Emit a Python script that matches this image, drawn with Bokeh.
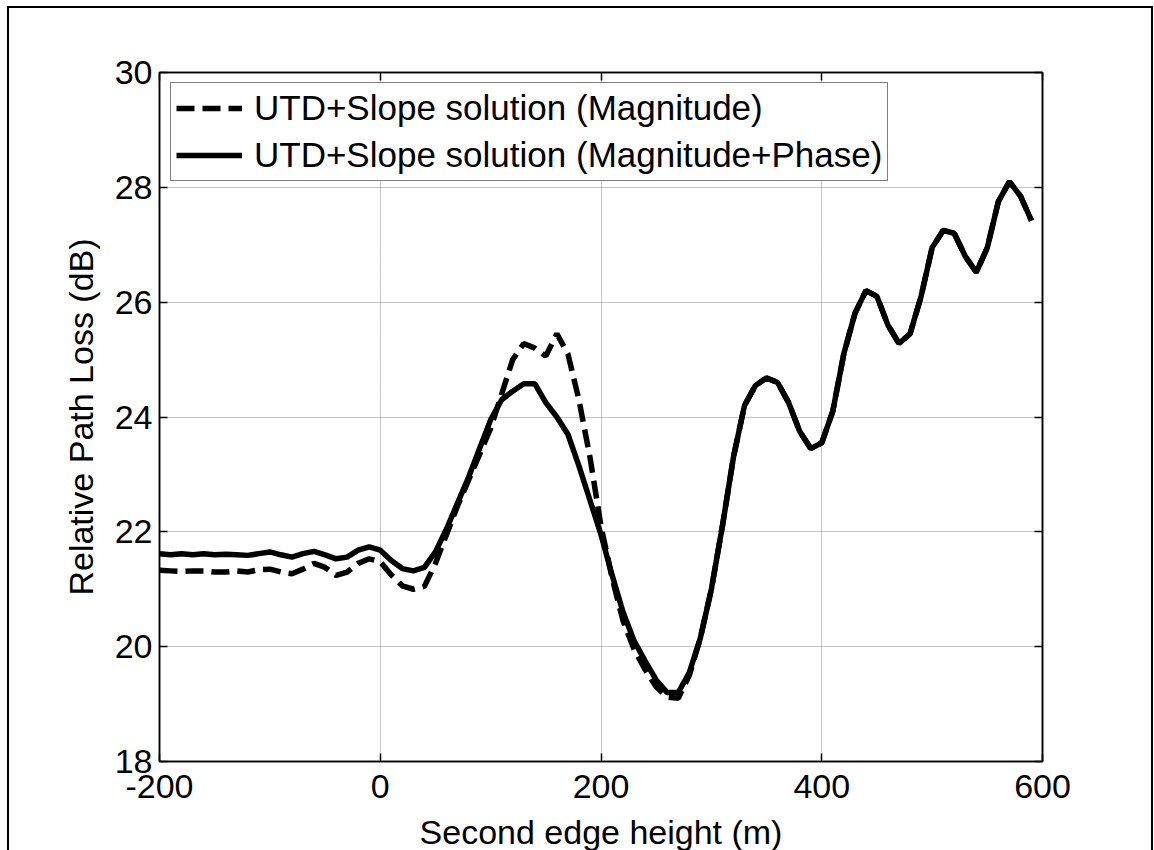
from bokeh.plotting import figure
from bokeh.models import Range1d, LinearAxis, Legend, LegendItem, FixedTicker
from bokeh.embed import file_html
from bokeh.resources import INLINE

# ---- data ----
edge_height = [-200, -190, -180, -170, -160, -150, -140, -130, -120, -110,
               -100, -90, -80, -70, -60, -50, -40, -30, -20, -10,
               0, 10, 20, 30, 40, 50, 60, 70, 80, 90,
               100, 110, 120, 130, 140, 150, 160, 170, 180, 190,
               200, 210, 220, 230, 240, 250, 260, 270, 280, 290,
               300, 310, 320, 330, 340, 350, 360, 370, 380, 390,
               400, 410, 420, 430, 440, 450, 460, 470, 480, 490,
               500, 510, 520, 530, 540, 550, 560, 570, 580, 590]

loss_magnitude = [21.33, 21.32, 21.31, 21.32, 21.32, 21.30, 21.30, 21.32, 21.30, 21.34,
                  21.35, 21.30, 21.27, 21.35, 21.45, 21.38, 21.24, 21.30, 21.45, 21.53,
                  21.48, 21.25, 21.06, 21.00, 21.05, 21.45, 21.95, 22.45, 22.90, 23.35,
                  23.80, 24.40, 25.00, 25.28, 25.20, 25.06, 25.45, 25.10, 24.30, 23.30,
                  22.10, 21.20, 20.45, 19.95, 19.60, 19.30, 19.12, 19.10, 19.50, 20.15,
                  21.00, 22.10, 23.30, 24.20, 24.55, 24.68, 24.60, 24.25, 23.75, 23.45,
                  23.55, 24.10, 25.10, 25.80, 26.20, 26.10, 25.60, 25.28, 25.45, 26.10,
                  26.95, 27.25, 27.20, 26.80, 26.52, 26.95, 27.75, 28.10, 27.85, 27.42]

loss_magnitude_phase = [21.62, 21.60, 21.62, 21.60, 21.62, 21.60, 21.61, 21.60, 21.59, 21.62,
                        21.65, 21.60, 21.56, 21.62, 21.66, 21.60, 21.53, 21.56, 21.68, 21.74,
                        21.68, 21.50, 21.36, 21.32, 21.38, 21.65, 22.05, 22.50, 22.95, 23.45,
                        23.95, 24.30, 24.45, 24.58, 24.58, 24.25, 24.00, 23.70, 23.15, 22.55,
                        21.95, 21.25, 20.60, 20.10, 19.75, 19.42, 19.20, 19.20, 19.55, 20.15,
                        21.00, 22.10, 23.30, 24.20, 24.55, 24.68, 24.60, 24.25, 23.75, 23.45,
                        23.55, 24.10, 25.10, 25.80, 26.20, 26.10, 25.60, 25.28, 25.45, 26.10,
                        26.95, 27.25, 27.20, 26.80, 26.52, 26.95, 27.75, 28.10, 27.85, 27.42]

x_ticks = [-200, 0, 200, 400, 600]
x_tick_labels = ["-200", "0", "200", "400", "600"]
y_ticks = [18, 20, 22, 24, 26, 28, 30]
series_labels = ["UTD+Slope solution (Magnitude)",
                 "UTD+Slope solution (Magnitude+Phase)"]

FONT = "Liberation Sans"
FS = "34px"

p = figure(frame_width=883, frame_height=689,
           x_range=Range1d(-200, 600), y_range=Range1d(18, 30),
           output_backend="svg", toolbar_location=None,
           min_border_left=150, min_border_top=64,
           min_border_right=109, min_border_bottom=89,
           background_fill_color="white", border_fill_color="white")

p.styles = {"margin-left": "7px", "margin-top": "6px",
            "border-left": "2px solid black", "border-top": "2px solid black",
            "border-right": "2px solid black"}

p.outline_line_color = "black"
p.outline_line_width = 1.5

# grid
for g in (p.xgrid[0], p.ygrid[0]):
    g.grid_line_color = "#8a8a8a"
    g.grid_line_dash = "1 1"
    g.grid_line_width = 1
p.xgrid[0].ticker = FixedTicker(ticks=x_ticks)
p.ygrid[0].ticker = FixedTicker(ticks=y_ticks)


def style_axis(ax, ticks, show_labels=True):
    ax.ticker = FixedTicker(ticks=ticks)
    ax.axis_line_color = "black"
    ax.axis_line_width = 1.5
    ax.major_tick_in = 8
    ax.major_tick_out = 0
    ax.major_tick_line_width = 1.5
    ax.minor_tick_line_color = None
    ax.major_label_text_font = FONT
    ax.major_label_text_color = "black"
    ax.axis_label_text_font = FONT
    ax.axis_label_text_font_size = FS
    ax.axis_label_text_font_style = "normal"
    ax.axis_label_text_color = "black"
    ax.major_label_text_font_size = FS
    if not show_labels:
        ax.major_label_overrides = {t: "" for t in ticks}
        ax.major_label_standoff = 0


style_axis(p.xaxis[0], x_ticks)
style_axis(p.yaxis[0], y_ticks)
p.xaxis[0].major_label_overrides = dict(zip(x_ticks, x_tick_labels))
p.xaxis[0].axis_label = "Second edge height (m)"
p.yaxis[0].axis_label = "Relative Path Loss (dB)"
p.xaxis[0].major_label_standoff = 13
p.yaxis[0].major_label_standoff = 7
p.xaxis[0].axis_label_standoff = 12
p.yaxis[0].axis_label_standoff = 12

top_ax = LinearAxis()
right_ax = LinearAxis()
style_axis(top_ax, x_ticks, show_labels=False)
style_axis(right_ax, y_ticks, show_labels=False)
p.add_layout(top_ax, "above")
p.add_layout(right_ax, "right")

r_mag = p.line(edge_height, loss_magnitude, line_color="black", line_width=5.5,
               line_dash="18 8")
r_mp = p.line(edge_height, loss_magnitude_phase, line_color="black", line_width=5.5)

legend = Legend(items=[LegendItem(label=series_labels[0], renderers=[r_mag]),
                       LegendItem(label=series_labels[1], renderers=[r_mp])],
                location=(11, 580),
                label_text_font=FONT, label_text_font_size="35px",
                label_text_color="black",
                glyph_width=66, glyph_height=40, label_height=40,
                label_standoff=12, spacing=7, padding=5, margin=0,
                border_line_color="black", border_line_width=1.5,
                background_fill_color="white", background_fill_alpha=1.0)
p.add_layout(legend, "center")

open("out.html", "w").write(file_html(p, INLINE))
